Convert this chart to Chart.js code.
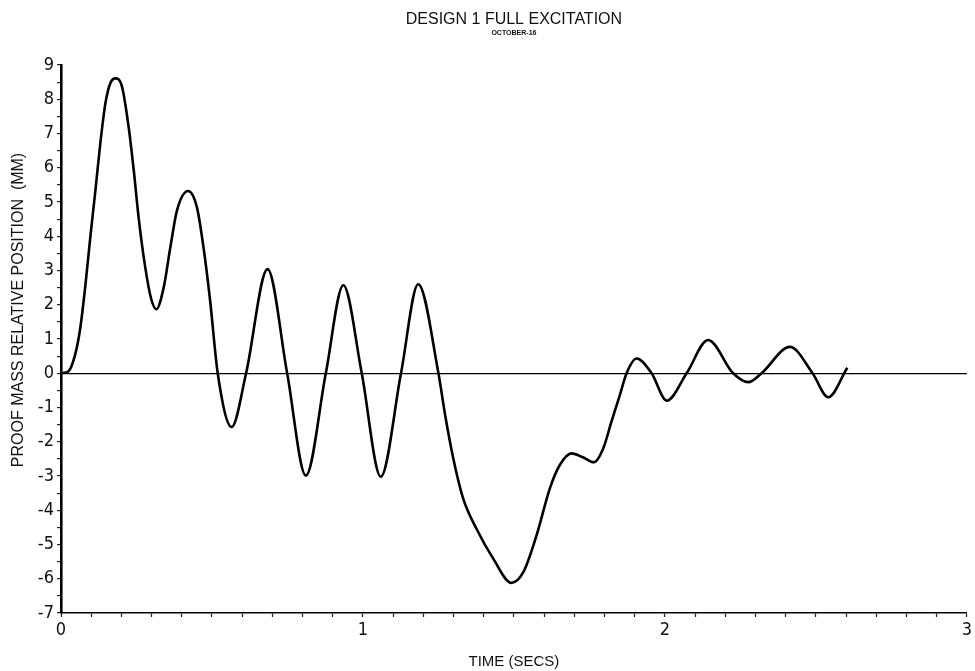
<!DOCTYPE html>
<html>
<head>
<meta charset="utf-8">
<script src="https://cdn.jsdelivr.net/npm/chart.js@4"></script>
<style>
  html, body { margin: 0; padding: 0; background: #fff; }
  #wrap { width: 975px; height: 671px; }
</style>
</head>
<body>
<div id="wrap"><canvas id="plot" width="975" height="671"></canvas></div>
<script>
// time in seconds and proof mass position in mm
const timeSecs = [
  0, 0.025, 0.047, 0.064, 0.080, 0.097, 0.114, 0.130, 0.147, 0.163,
  0.180, 0.202, 0.224, 0.241, 0.257, 0.279, 0.299, 0.316, 0.340, 0.362,
  0.384, 0.421, 0.450, 0.472, 0.494, 0.519, 0.565, 0.613, 0.684, 0.749,
  0.811, 0.877, 0.935, 0.996, 1.059, 1.126, 1.183, 1.250, 1.272, 1.299,
  1.332, 1.376, 1.432, 1.492, 1.531, 1.575, 1.619, 1.652, 1.691, 1.730,
  1.765, 1.796, 1.823, 1.851, 1.873, 1.906, 1.956, 2.006, 2.072, 2.143,
  2.226, 2.276, 2.320, 2.414, 2.489, 2.541, 2.604
];
const positionMm = [
  0, 0.06, 0.55, 1.33, 2.5, 3.97, 5.34, 6.7, 7.88, 8.46,
  8.61, 8.37, 7.19, 5.92, 4.55, 3.09, 2.16, 1.87, 2.5, 3.67,
  4.75, 5.32, 4.85, 3.67, 2.11, 0, -1.57, 0, 3.04, 0,
  -2.99, 0, 2.57, 0, -3.02, 0, 2.6, 0, -1.21, -2.48,
  -3.66, -4.54, -5.42, -6.12, -5.81, -4.73, -3.36, -2.68, -2.34, -2.46,
  -2.6, -2.19, -1.41, -0.63, 0, 0.43, 0, -0.8, 0, 0.97,
  0, -0.26, 0, 0.77, 0, -0.7, 0.16
];
const xTickLabels = ['0', '1', '2', '3'];

const TICK_FONT = "'Liberation Sans Narrow', 'DejaVu Sans Condensed', 'Liberation Sans', sans-serif";
const TEXT_FONT = "'Liberation Sans', Arial, sans-serif";

const points = timeSecs.map((t, i) => ({ x: t, y: positionMm[i] }));

function isWhole(v) { return Math.abs(v - Math.round(v)) < 1e-6; }

// headings and y axis title, placed like the plotter output
const labels = {
  id: 'labels',
  afterDraw(chart) {
    const c = chart.ctx;
    const area = chart.chartArea;
    const mid = (area.left + area.right) / 2;
    c.save();
    c.fillStyle = '#111';
    c.textAlign = 'center';
    c.textBaseline = 'middle';
    c.font = "16px " + TEXT_FONT;
    c.fillText('DESIGN 1 FULL EXCITATION', mid, 20);
    c.font = "bold 7px " + TEXT_FONT;
    c.fillText('OCTOBER-16', mid, 33);
    c.translate(19, 310);
    c.rotate(-Math.PI / 2);
    c.font = "16px " + TEXT_FONT;
    c.fillText('PROOF MASS RELATIVE POSITION  (MM)', 0, 0);
    c.restore();
  }
};

new Chart(document.getElementById('plot'), {
  type: 'line',
  data: {
    datasets: [{
      data: points,
      borderColor: '#000',
      borderWidth: 2.6,
      pointRadius: 0,
      cubicInterpolationMode: 'monotone',
      fill: false
    }]
  },
  options: {
    responsive: false,
    animation: false,
    layout: { padding: { top: 65, right: 8, left: 0, bottom: 0 } },
    plugins: {
      legend: { display: false },
      tooltip: { enabled: false }
    },
    scales: {
      x: {
        type: 'linear',
        min: 0,
        max: 3,
        afterFit(s) { s.height = 58; },
        ticks: {
          stepSize: 0.1,
          autoSkip: false,
          maxRotation: 0,
          color: '#111',
          font: { family: TICK_FONT, size: 18 },
          padding: 3,
          callback: v => isWhole(v) ? xTickLabels[Math.round(v)] : ''
        },
        grid: {
          drawOnChartArea: false,
          drawTicks: true,
          tickLength: 4,
          tickColor: '#222',
          tickWidth: 1.2
        },
        border: { color: '#000', width: 1.6 },
        title: {
          display: true,
          text: 'TIME (SECS)',
          color: '#111',
          font: { family: TEXT_FONT, size: 15 },
          padding: { top: 6, bottom: 0 }
        }
      },
      y: {
        min: -7,
        max: 9,
        afterFit(s) { s.width = 61; },
        ticks: {
          stepSize: 0.5,
          autoSkip: false,
          color: '#111',
          font: { family: TICK_FONT, size: 18 },
          padding: 3,
          callback: v => isWhole(v) ? String(Math.round(v)) : ''
        },
        grid: {
          drawTicks: true,
          tickLength: 4,
          tickColor: '#222',
          color: ctx => (ctx.tick && Math.abs(ctx.tick.value) < 1e-6) ? '#000' : 'rgba(0,0,0,0)',
          lineWidth: 1.2
        },
        border: { color: '#000', width: 2.6 }
      }
    }
  },
  plugins: [labels]
});
</script>
</body>
</html>
